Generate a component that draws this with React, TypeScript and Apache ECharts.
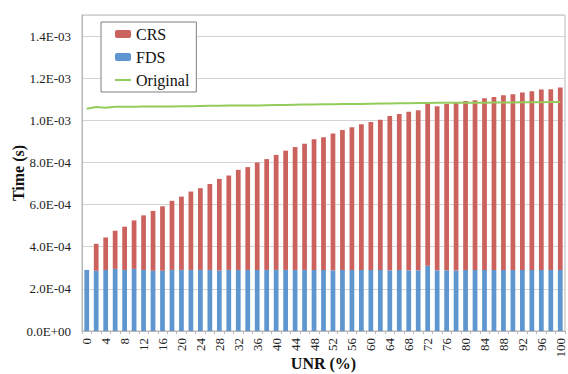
import React, { useEffect, useRef } from "react";
import * as echarts from "echarts";

const categories: string[] = [
  "0","2","4","6","8","10","12","14","16","18","20","22","24","26","28","30","32","34","36","38",
  "40","42","44","46","48","50","52","54","56","58","60","62","64","66","68","70","72","74","76","78",
  "80","82","84","86","88","90","92","94","96","98","100",
];

// FDS time (s)
const fds: number[] = [
  2.90e-4, 2.86e-4, 2.90e-4, 2.95e-4, 2.90e-4, 2.95e-4, 2.90e-4, 2.86e-4, 2.86e-4, 2.90e-4,
  2.90e-4, 2.90e-4, 2.90e-4, 2.90e-4, 2.87e-4, 2.90e-4, 2.90e-4, 2.90e-4, 2.90e-4, 2.90e-4,
  2.90e-4, 2.90e-4, 2.90e-4, 2.90e-4, 2.90e-4, 2.90e-4, 2.88e-4, 2.90e-4, 2.90e-4, 2.90e-4,
  2.90e-4, 2.90e-4, 2.88e-4, 2.90e-4, 2.88e-4, 2.88e-4, 3.10e-4, 2.88e-4, 2.88e-4, 2.87e-4,
  2.90e-4, 2.90e-4, 2.90e-4, 2.90e-4, 2.90e-4, 2.90e-4, 2.90e-4, 2.90e-4, 2.90e-4, 2.90e-4,
  2.90e-4,
];

// CRS time (s)
const crs: number[] = [
  0, 1.28e-4, 1.54e-4, 1.81e-4, 2.05e-4, 2.30e-4, 2.59e-4, 2.84e-4, 3.06e-4, 3.28e-4,
  3.48e-4, 3.72e-4, 3.88e-4, 4.08e-4, 4.35e-4, 4.48e-4, 4.75e-4, 4.88e-4, 5.10e-4, 5.26e-4,
  5.46e-4, 5.66e-4, 5.83e-4, 5.99e-4, 6.20e-4, 6.30e-4, 6.50e-4, 6.64e-4, 6.77e-4, 6.91e-4,
  7.02e-4, 7.13e-4, 7.33e-4, 7.40e-4, 7.53e-4, 7.60e-4, 7.70e-4, 7.79e-4, 7.90e-4, 7.95e-4,
  8.02e-4, 8.05e-4, 8.15e-4, 8.21e-4, 8.29e-4, 8.34e-4, 8.42e-4, 8.48e-4, 8.56e-4, 8.58e-4,
  8.66e-4,
];

// Original time (s)
const original: number[] = [
  1.055e-3, 1.063e-3, 1.060e-3, 1.064e-3, 1.065e-3, 1.065e-3, 1.066e-3, 1.066e-3, 1.066e-3, 1.066e-3,
  1.067e-3, 1.067e-3, 1.068e-3, 1.069e-3, 1.069e-3, 1.070e-3, 1.070e-3, 1.071e-3, 1.071e-3, 1.072e-3,
  1.073e-3, 1.073e-3, 1.074e-3, 1.075e-3, 1.075e-3, 1.076e-3, 1.076e-3, 1.077e-3, 1.078e-3, 1.078e-3,
  1.079e-3, 1.080e-3, 1.080e-3, 1.081e-3, 1.081e-3, 1.082e-3, 1.082e-3, 1.083e-3, 1.083e-3, 1.083e-3,
  1.084e-3, 1.084e-3, 1.084e-3, 1.085e-3, 1.085e-3, 1.085e-3, 1.086e-3, 1.086e-3, 1.086e-3, 1.087e-3,
  1.087e-3,
];

const FONT = "Liberation Serif, Times New Roman, serif";

function fmtExp(v: number): string {
  if (v > 1.45e-3) return "";
  const s = v.toExponential(1);
  const [m, e] = s.split("e");
  const n = parseInt(e, 10);
  const sign = n < 0 ? "-" : "+";
  const abs = Math.abs(n);
  return m + "E" + sign + (abs < 10 ? "0" + abs : String(abs));
}

export default function App() {
  const ref = useRef<HTMLDivElement>(null);
  useEffect(() => {
    if (!ref.current) return;
    const chart = echarts.init(ref.current, undefined, { renderer: "svg" });
    const axisText = { fontFamily: FONT, fontSize: 13, color: "#222" };
    const nameText = { fontFamily: FONT, fontSize: 16, fontWeight: "bold", color: "#111" };
    chart.setOption({
      animation: false,
      backgroundColor: "#ffffff",
      textStyle: { fontFamily: FONT },
      grid: {
        left: 82,
        right: 3,
        top: 15,
        bottom: 43,
        containLabel: false,
        outerBoundsMode: "none",
        show: true,
        borderColor: "#b8b8b8",
        borderWidth: 1,
      },
      legend: {
        data: [
          { name: "CRS" },
          { name: "FDS" },
          { name: "Original", itemStyle: { opacity: 0 } },
        ],
        orient: "vertical",
        left: 101,
        top: 22,
        padding: [4, 7, 4, 13],
        itemGap: 7,
        itemWidth: 16,
        itemHeight: 8,
        borderColor: "#7f7f7f",
        borderWidth: 1,
        backgroundColor: "#ffffff",
        textStyle: { fontFamily: FONT, fontSize: 16, color: "#111", lineHeight: 16 },
      },
      xAxis: {
        type: "category",
        data: categories,
        name: "UNR (%)",
        nameLocation: "middle",
        nameGap: 24,
        nameMoveOverlap: false,
        nameTextStyle: nameText,
        axisLine: { lineStyle: { color: "#b8b8b8" } },
        axisTick: { show: true, length: 3, interval: 0, lineStyle: { color: "#b8b8b8" } },
        axisLabel: {
          interval: 1,
          rotate: 90,
          margin: 7,
          lineHeight: 10,
          ...axisText,
        },
      },
      yAxis: {
        type: "value",
        min: 0,
        max: 1.5e-3,
        interval: 2e-4,
        name: "Time (s)",
        nameLocation: "middle",
        nameGap: 56,
        nameRotate: 90,
        nameMoveOverlap: false,
        nameTextStyle: nameText,
        axisLine: { show: true, lineStyle: { color: "#b8b8b8" } },
        axisTick: { show: false },
        splitLine: { lineStyle: { color: "#d4d4d4" } },
        axisLabel: {
          formatter: (v: number) => fmtExp(v),
          margin: 11,
          ...axisText,
          showMaxLabel: false,
        },
      },
      series: [
        {
          name: "FDS",
          type: "bar",
          stack: "t",
          data: fds,
          barWidth: "50%",
          itemStyle: { color: "#5f96cf" },
        },
        {
          name: "CRS",
          type: "bar",
          stack: "t",
          data: crs,
          barWidth: "50%",
          itemStyle: { color: "#cc625e" },
        },
        {
          name: "Original",
          type: "line",
          data: original,
          symbol: "none",
          lineStyle: { color: "#94cc5c", width: 2 },
          itemStyle: { color: "#94cc5c" },
        },
      ],
    });
    return () => chart.dispose();
  }, []);
  return <div ref={ref} style={{ width: 568, height: 374, position: "absolute", left: 0, top: 0 }} />;
}
